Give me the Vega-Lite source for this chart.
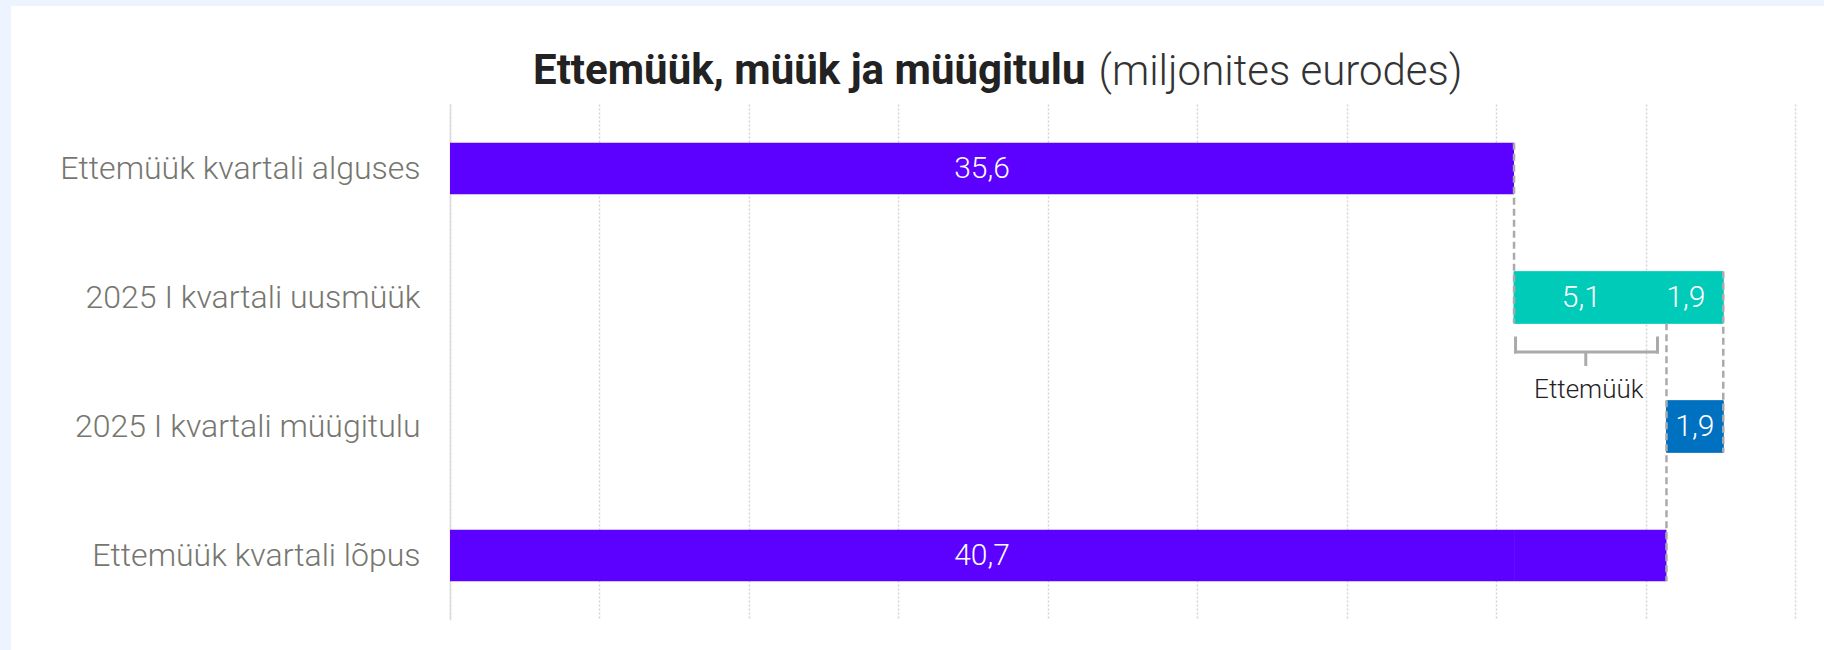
{
  "$schema": "https://vega.github.io/schema/vega-lite/v6.json",
  "width": 1813,
  "height": 644,
  "autosize": {"type": "none"},
  "padding": {"left": 11, "top": 6, "right": 0, "bottom": 0},
  "background": "#eef4fe",
  "title": {
    "text": "Ettemüük, müük ja müügitulu",
    "anchor": "start",
    "frame": "group",
    "dx": 522,
    "dy": 139,
    "offset": 19,
    "baseline": "alphabetic",
    "font": "Roboto",
    "fontSize": 42,
    "fontWeight": "bold",
    "color": "#222222"
  },
  "config": {"view": {"stroke": null, "fill": "#ffffff"}, "font": "Roboto"},
  "datasets": {
    "bars": [
      {"cat": "Ettemüük kvartali alguses", "seq": 1, "kind": "ettemuuk", "value": 35.6, "label": "35,6"},
      {"cat": "2025 I kvartali uusmüük", "seq": 1, "kind": "base", "value": 35.6, "label": ""},
      {"cat": "2025 I kvartali uusmüük", "seq": 2, "kind": "uusmuuk", "value": 5.1, "label": "5,1"},
      {"cat": "2025 I kvartali uusmüük", "seq": 3, "kind": "uusmuuk", "value": 1.9, "label": "1,9"},
      {"cat": "2025 I kvartali müügitulu", "seq": 1, "kind": "base", "value": 40.7, "label": ""},
      {"cat": "2025 I kvartali müügitulu", "seq": 2, "kind": "muugitulu", "value": 1.9, "label": "1,9"},
      {"cat": "Ettemüük kvartali lõpus", "seq": 1, "kind": "ettemuuk", "value": 35.6, "label": "40,7"},
      {"cat": "Ettemüük kvartali lõpus", "seq": 2, "kind": "ettemuuk", "value": 5.1, "label": ""}
    ],
    "connectorsFromTop": [
      {"at": 35.6, "from": "Ettemüük kvartali alguses", "to": "2025 I kvartali uusmüük"},
      {"at": 42.6, "from": "2025 I kvartali uusmüük", "to": "2025 I kvartali müügitulu"}
    ],
    "connectorsFromBottom": [
      {"at": 40.7, "from": "2025 I kvartali uusmüük", "to": "Ettemüük kvartali lõpus"}
    ],
    "bracket": [
      {"cat": "2025 I kvartali uusmüük", "left": 35.65, "right": 40.4, "mid": 38.0, "text": "Ettemüük"}
    ]
  },
  "layer": [
    {
      "data": {"name": "bars"},
      "mark": {"type": "bar", "strokeWidth": 1},
      "encoding": {
        "y": {
          "field": "cat",
          "type": "nominal",
          "sort": null,
          "scale": {
            "domain": ["Ettemüük kvartali alguses", "2025 I kvartali uusmüük", "2025 I kvartali müügitulu", "Ettemüük kvartali lõpus"],
            "range": [98, 614],
            "paddingInner": 0.6,
            "paddingOuter": 0.3
          },
          "axis": {
            "offset": -439,
            "title": "(miljonites eurodes)",
            "titleAngle": 0,
            "titleX": 648,
            "titleY": 78,
            "titleAlign": "left",
            "titleBaseline": "alphabetic",
            "titleFont": "Roboto",
            "titleFontSize": 42,
            "titleFontWeight": 300,
            "titleColor": "#333333",
            "labelFont": "Roboto",
            "labelFontSize": 32,
            "labelFontWeight": 300,
            "labelColor": "#76766f",
            "labelPadding": 30,
            "labelLimit": 600,
            "ticks": false,
            "tickSize": 0,
            "domain": true,
            "domainColor": "#dcdcdc",
            "domainWidth": 1.5,
            "grid": false
          }
        },
        "x": {
          "field": "value",
          "type": "quantitative",
          "stack": "zero",
          "scale": {"domain": [0, 45], "nice": false, "range": [439, 1784]},
          "axis": {
            "orient": "top",
            "title": null,
            "labels": false,
            "ticks": false,
            "domain": false,
            "grid": true,
            "gridDash": [2, 2],
            "gridColor": "#d4d4d4",
            "gridWidth": 1.5,
            "values": [0, 5, 10, 15, 20, 25, 30, 35, 40, 45]
          }
        },
        "color": {
          "field": "kind",
          "type": "nominal",
          "scale": {
            "domain": ["base", "ettemuuk", "uusmuuk", "muugitulu"],
            "range": ["transparent", "#5c00ff", "#00cbb8", "#0070c0"]
          },
          "legend": null
        },
        "stroke": {
          "field": "kind",
          "type": "nominal",
          "scale": {
            "domain": ["base", "ettemuuk", "uusmuuk", "muugitulu"],
            "range": ["transparent", "transparent", "#00cbb8", "#0070c0"]
          },
          "legend": null
        },
        "detail": {"field": "seq", "type": "ordinal"},
        "order": {"field": "seq", "type": "quantitative"}
      }
    },
    {
      "data": {"name": "connectorsFromTop"},
      "mark": {"type": "rule", "color": "#aaaaaa", "strokeWidth": 2.5, "strokeDash": [7, 4]},
      "encoding": {
        "x": {"field": "at", "type": "quantitative"},
        "y": {"field": "from", "type": "nominal", "bandPosition": 0},
        "y2": {"field": "to", "bandPosition": 1}
      }
    },
    {
      "data": {"name": "connectorsFromBottom"},
      "mark": {"type": "rule", "color": "#aaaaaa", "strokeWidth": 2.5, "strokeDash": [7, 4]},
      "encoding": {
        "x": {"field": "at", "type": "quantitative"},
        "y": {"field": "from", "type": "nominal", "bandPosition": 1},
        "y2": {"field": "to", "bandPosition": 1}
      }
    },
    {
      "data": {"name": "bracket"},
      "mark": {"type": "rule", "color": "#aaaaaa", "strokeWidth": 3, "strokeCap": "square"},
      "encoding": {
        "x": {"field": "left", "type": "quantitative"},
        "y": {"field": "cat", "type": "nominal", "bandPosition": 1.285},
        "y2": {"field": "cat", "bandPosition": 1.556}
      }
    },
    {
      "data": {"name": "bracket"},
      "mark": {"type": "rule", "color": "#aaaaaa", "strokeWidth": 3, "strokeCap": "square"},
      "encoding": {
        "x": {"field": "right", "type": "quantitative"},
        "y": {"field": "cat", "type": "nominal", "bandPosition": 1.285},
        "y2": {"field": "cat", "bandPosition": 1.556}
      }
    },
    {
      "data": {"name": "bracket"},
      "mark": {"type": "rule", "color": "#aaaaaa", "strokeWidth": 3, "strokeCap": "square"},
      "encoding": {
        "x": {"field": "left", "type": "quantitative"},
        "x2": {"field": "right"},
        "y": {"field": "cat", "type": "nominal", "bandPosition": 1.556}
      }
    },
    {
      "data": {"name": "bracket"},
      "mark": {"type": "rule", "color": "#aaaaaa", "strokeWidth": 3, "strokeCap": "butt"},
      "encoding": {
        "x": {"field": "mid", "type": "quantitative"},
        "y": {"field": "cat", "type": "nominal", "bandPosition": 1.556},
        "y2": {"field": "cat", "bandPosition": 1.827}
      }
    },
    {
      "data": {"name": "bracket"},
      "mark": {"type": "text", "font": "Roboto", "fontSize": 26, "fontWeight": 300, "color": "#222222", "align": "center", "baseline": "alphabetic", "dx": 3},
      "encoding": {
        "x": {"field": "mid", "type": "quantitative"},
        "y": {"field": "cat", "type": "nominal", "bandPosition": 2.448},
        "text": {"field": "text"}
      }
    },
    {
      "data": {"name": "bars"},
      "transform": [{"filter": "datum.cat === '2025 I kvartali uusmüük'"}],
      "mark": {"type": "text", "font": "Roboto", "fontSize": 30, "fontWeight": 300, "color": "#ffffff", "align": "center", "baseline": "middle", "dx": -9},
      "encoding": {
        "x": {"field": "value", "type": "quantitative", "stack": "zero", "bandPosition": 0.5},
        "y": {"field": "cat", "type": "nominal"},
        "text": {"field": "label"},
        "detail": {"field": "seq", "type": "ordinal"},
        "order": {"field": "seq", "type": "quantitative"}
      }
    },
    {
      "data": {"name": "bars"},
      "transform": [{"filter": "datum.cat !== '2025 I kvartali uusmüük'"}],
      "mark": {"type": "text", "font": "Roboto", "fontSize": 30, "fontWeight": 300, "color": "#ffffff", "align": "center", "baseline": "middle"},
      "encoding": {
        "x": {"field": "value", "type": "quantitative", "stack": "zero", "bandPosition": 0.5},
        "y": {"field": "cat", "type": "nominal"},
        "text": {"field": "label"},
        "detail": {"field": "seq", "type": "ordinal"},
        "order": {"field": "seq", "type": "quantitative"}
      }
    }
  ]
}
